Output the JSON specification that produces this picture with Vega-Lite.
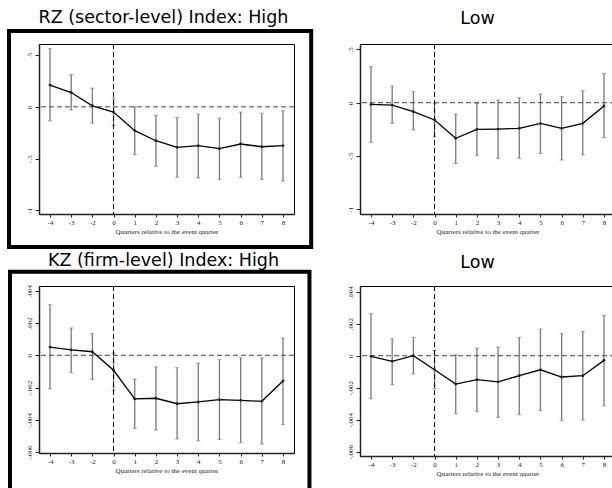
{
  "$schema": "https://vega.github.io/schema/vega-lite/v6.json",
  "background": "white",
  "padding": {"left": 6, "top": 8, "right": 0, "bottom": 0},
  "datasets": {
    "est": [
      {"panel": "RZ_High", "q": -4, "b": 0.21, "lo": -0.135, "hi": 0.56},
      {"panel": "RZ_High", "q": -3, "b": 0.138, "lo": -0.03, "hi": 0.31},
      {"panel": "RZ_High", "q": -2, "b": 0.01, "lo": -0.157, "hi": 0.18},
      {"panel": "RZ_High", "q": 0, "b": -0.051, "lo": -0.18, "hi": 0.084},
      {"panel": "RZ_High", "q": 1, "b": -0.23, "lo": -0.46, "hi": 0.0},
      {"panel": "RZ_High", "q": 2, "b": -0.327, "lo": -0.574, "hi": -0.083},
      {"panel": "RZ_High", "q": 3, "b": -0.391, "lo": -0.68, "hi": -0.103},
      {"panel": "RZ_High", "q": 4, "b": -0.375, "lo": -0.686, "hi": -0.07},
      {"panel": "RZ_High", "q": 5, "b": -0.404, "lo": -0.7, "hi": -0.109},
      {"panel": "RZ_High", "q": 6, "b": -0.359, "lo": -0.68, "hi": -0.051},
      {"panel": "RZ_High", "q": 7, "b": -0.385, "lo": -0.7, "hi": -0.061},
      {"panel": "RZ_High", "q": 8, "b": -0.375, "lo": -0.718, "hi": -0.038},
      {"panel": "RZ_Low", "q": -4, "b": -0.016, "lo": -0.371, "hi": 0.338},
      {"panel": "RZ_Low", "q": -3, "b": -0.022, "lo": -0.193, "hi": 0.157},
      {"panel": "RZ_Low", "q": -2, "b": -0.084, "lo": -0.256, "hi": 0.103},
      {"panel": "RZ_Low", "q": 0, "b": -0.162, "lo": -0.319, "hi": -0.005},
      {"panel": "RZ_Low", "q": 1, "b": -0.334, "lo": -0.569, "hi": -0.106},
      {"panel": "RZ_Low", "q": 2, "b": -0.25, "lo": -0.497, "hi": -0.006},
      {"panel": "RZ_Low", "q": 3, "b": -0.247, "lo": -0.522, "hi": 0.025},
      {"panel": "RZ_Low", "q": 4, "b": -0.24, "lo": -0.522, "hi": 0.047},
      {"panel": "RZ_Low", "q": 5, "b": -0.193, "lo": -0.475, "hi": 0.082},
      {"panel": "RZ_Low", "q": 6, "b": -0.24, "lo": -0.537, "hi": 0.056},
      {"panel": "RZ_Low", "q": 7, "b": -0.193, "lo": -0.49, "hi": 0.113},
      {"panel": "RZ_Low", "q": 8, "b": -0.031, "lo": -0.328, "hi": 0.276},
      {"panel": "KZ_High", "q": -4, "b": 0.00051, "lo": -0.00207, "hi": 0.00313},
      {"panel": "KZ_High", "q": -3, "b": 0.00033, "lo": -0.00108, "hi": 0.00169},
      {"panel": "KZ_High", "q": -2, "b": 0.00022, "lo": -0.00149, "hi": 0.00134},
      {"panel": "KZ_High", "q": 0, "b": -0.00093, "lo": -0.00217, "hi": 0.00014},
      {"panel": "KZ_High", "q": 1, "b": -0.0027, "lo": -0.00452, "hi": -0.00147},
      {"panel": "KZ_High", "q": 2, "b": -0.00266, "lo": -0.00462, "hi": -0.00072},
      {"panel": "KZ_High", "q": 3, "b": -0.003, "lo": -0.00518, "hi": -0.00077},
      {"panel": "KZ_High", "q": 4, "b": -0.00289, "lo": -0.0053, "hi": -0.00048},
      {"panel": "KZ_High", "q": 5, "b": -0.00275, "lo": -0.00522, "hi": -0.00027},
      {"panel": "KZ_High", "q": 6, "b": -0.00279, "lo": -0.00541, "hi": -0.00015},
      {"panel": "KZ_High", "q": 7, "b": -0.00285, "lo": -0.00549, "hi": -0.00015},
      {"panel": "KZ_High", "q": 8, "b": -0.00159, "lo": -0.00429, "hi": 0.00107},
      {"panel": "KZ_Low", "q": -4, "b": -0.00004, "lo": -0.00269, "hi": 0.00263},
      {"panel": "KZ_Low", "q": -3, "b": -0.00035, "lo": -0.00181, "hi": 0.00106},
      {"panel": "KZ_Low", "q": -2, "b": 0.0, "lo": -0.00114, "hi": 0.00115},
      {"panel": "KZ_Low", "q": 0, "b": -0.00088, "lo": -0.00206, "hi": 0.00033},
      {"panel": "KZ_Low", "q": 1, "b": -0.00177, "lo": -0.00363, "hi": 0.00006},
      {"panel": "KZ_Low", "q": 2, "b": -0.0015, "lo": -0.0035, "hi": 0.00048},
      {"panel": "KZ_Low", "q": 3, "b": -0.00163, "lo": -0.00385, "hi": 0.00054},
      {"panel": "KZ_Low", "q": 4, "b": -0.00125, "lo": -0.00369, "hi": 0.00115},
      {"panel": "KZ_Low", "q": 5, "b": -0.00088, "lo": -0.00342, "hi": 0.00167},
      {"panel": "KZ_Low", "q": 6, "b": -0.00133, "lo": -0.00406, "hi": 0.00138},
      {"panel": "KZ_Low", "q": 7, "b": -0.00125, "lo": -0.00402, "hi": 0.00152},
      {"panel": "KZ_Low", "q": 8, "b": -0.00029, "lo": -0.00313, "hi": 0.00252}
    ]
  },
  "data": {"name": "est"},
  "columns": 2,
  "spacing": {"row": 72, "column": 66},
  "bounds": "flush",
  "concat": [
    {
      "title": {"text": "RZ (sector-level) Index: High", "offset": 3, "dx": -3},
      "width": 255,
      "height": 170,
      "layer": [
        {
          "data": {"values": [{}]},
          "mark": {"type": "rect", "fill": null, "fillOpacity": 0, "stroke": "#000", "strokeWidth": 4},
          "encoding": {
            "x": {"datum": -5.936, "type": "quantitative", "title": "Quarters relative to the event quarter"},
            "x2": {"datum": 9.33},
            "y": {"datum": 0.731, "type": "quantitative", "title": null},
            "y2": {"datum": -1.352}
          }
        },
        {
          "transform": [{"filter": "datum.panel === 'RZ_High'"}],
          "mark": {"type": "rule", "color": "#7a7a7a", "strokeWidth": 1.3},
          "encoding": {
            "x": {"field": "q", "type": "quantitative", "title": "Quarters relative to the event quarter",
              "scale": {"domain": [-4.52, -2, 0, 8.52], "range": [0, 53.37, 74.55, 255], "nice": false, "zero": false},
              "axis": {"values": [-4, -3, -2, 0, 1, 2, 3, 4, 5, 6, 7, 8], "tickCount": 30, "labelOverlap": false, "labelExpr": "(datum.value < 0 ? '-' : '') + abs(datum.value)"}},
            "y": {"field": "lo", "type": "quantitative", "title": null,
              "scale": {"domain": [-1.034, 0.606], "nice": false, "zero": false},
              "axis": {"values": [-1, -0.5, 0, 0.5], "tickCount": 30, "labelOverlap": false, "labelExpr": "(datum.value < 0 ? '-' : '') + replace(format(abs(datum.value), '~g'), '0.', '.')"}},
            "y2": {"field": "hi"}
          }
        },
        {
          "transform": [{"filter": "datum.panel === 'RZ_High'"}],
          "mark": {"type": "tick", "orient": "horizontal", "size": 4, "thickness": 1, "color": "#7a7a7a"},
          "encoding": {
            "x": {"field": "q", "type": "quantitative", "title": "Quarters relative to the event quarter"},
            "y": {"field": "lo", "type": "quantitative", "title": null}
          }
        },
        {
          "transform": [{"filter": "datum.panel === 'RZ_High'"}],
          "mark": {"type": "tick", "orient": "horizontal", "size": 4, "thickness": 1, "color": "#7a7a7a"},
          "encoding": {
            "x": {"field": "q", "type": "quantitative", "title": "Quarters relative to the event quarter"},
            "y": {"field": "hi", "type": "quantitative", "title": null}
          }
        },
        {
          "data": {"values": [{}]},
          "mark": {"type": "rule", "color": "#444", "strokeDash": [5, 3], "strokeWidth": 1},
          "encoding": {"y": {"datum": 0, "type": "quantitative", "title": null}}
        },
        {
          "data": {"values": [{}]},
          "mark": {"type": "rule", "color": "#000", "strokeDash": [5, 3], "strokeWidth": 1},
          "encoding": {"x": {"datum": 0, "type": "quantitative", "title": "Quarters relative to the event quarter"}}
        },
        {
          "transform": [{"filter": "datum.panel === 'RZ_High'"}],
          "mark": {"type": "line", "color": "#000", "strokeWidth": 1.3},
          "encoding": {
            "x": {"field": "q", "type": "quantitative", "title": "Quarters relative to the event quarter"},
            "y": {"field": "b", "type": "quantitative", "title": null}
          }
        },
        {
          "transform": [{"filter": "datum.panel === 'RZ_High'"}],
          "mark": {"type": "point", "filled": true, "size": 8, "color": "#222", "opacity": 1},
          "encoding": {
            "x": {"field": "q", "type": "quantitative", "title": "Quarters relative to the event quarter"},
            "y": {"field": "b", "type": "quantitative", "title": null}
          }
        }
      ]
    },
    {
      "title": {"text": "Low", "offset": 16, "dx": -10},
      "width": 255,
      "height": 170,
      "layer": [
        {
          "transform": [{"filter": "datum.panel === 'RZ_Low'"}],
          "mark": {"type": "rule", "color": "#7a7a7a", "strokeWidth": 1.3},
          "encoding": {
            "x": {"field": "q", "type": "quantitative", "title": "Quarters relative to the event quarter",
              "scale": {"domain": [-4.52, -2, 0, 8.52], "range": [0, 53.37, 74.55, 255], "nice": false, "zero": false},
              "axis": {"values": [-4, -3, -2, 0, 1, 2, 3, 4, 5, 6, 7, 8], "tickCount": 30, "labelOverlap": false, "labelExpr": "(datum.value < 0 ? '-' : '') + abs(datum.value)"}},
            "y": {"field": "lo", "type": "quantitative", "title": null,
              "scale": {"domain": [-1.044, 0.551], "nice": false, "zero": false},
              "axis": {"values": [-1, -0.5, 0, 0.5], "tickCount": 30, "labelOverlap": false, "labelExpr": "(datum.value < 0 ? '-' : '') + replace(format(abs(datum.value), '~g'), '0.', '.')"}},
            "y2": {"field": "hi"}
          }
        },
        {
          "transform": [{"filter": "datum.panel === 'RZ_Low'"}],
          "mark": {"type": "tick", "orient": "horizontal", "size": 4, "thickness": 1, "color": "#7a7a7a"},
          "encoding": {
            "x": {"field": "q", "type": "quantitative", "title": "Quarters relative to the event quarter"},
            "y": {"field": "lo", "type": "quantitative", "title": null}
          }
        },
        {
          "transform": [{"filter": "datum.panel === 'RZ_Low'"}],
          "mark": {"type": "tick", "orient": "horizontal", "size": 4, "thickness": 1, "color": "#7a7a7a"},
          "encoding": {
            "x": {"field": "q", "type": "quantitative", "title": "Quarters relative to the event quarter"},
            "y": {"field": "hi", "type": "quantitative", "title": null}
          }
        },
        {
          "data": {"values": [{}]},
          "mark": {"type": "rule", "color": "#444", "strokeDash": [5, 3], "strokeWidth": 1},
          "encoding": {"y": {"datum": 0, "type": "quantitative", "title": null}}
        },
        {
          "data": {"values": [{}]},
          "mark": {"type": "rule", "color": "#000", "strokeDash": [5, 3], "strokeWidth": 1},
          "encoding": {"x": {"datum": 0, "type": "quantitative", "title": "Quarters relative to the event quarter"}}
        },
        {
          "transform": [{"filter": "datum.panel === 'RZ_Low'"}],
          "mark": {"type": "line", "color": "#000", "strokeWidth": 1.3},
          "encoding": {
            "x": {"field": "q", "type": "quantitative", "title": "Quarters relative to the event quarter"},
            "y": {"field": "b", "type": "quantitative", "title": null}
          }
        },
        {
          "transform": [{"filter": "datum.panel === 'RZ_Low'"}],
          "mark": {"type": "point", "filled": true, "size": 8, "color": "#222", "opacity": 1},
          "encoding": {
            "x": {"field": "q", "type": "quantitative", "title": "Quarters relative to the event quarter"},
            "y": {"field": "b", "type": "quantitative", "title": null}
          }
        }
      ]
    },
    {
      "title": {"text": "KZ (firm-level) Index: High", "offset": 0, "dx": -3},
      "width": 255,
      "height": 167,
      "layer": [
        {
          "data": {"values": [{}]},
          "mark": {"type": "rect", "fill": null, "fillOpacity": 0, "stroke": "#000", "strokeWidth": 4},
          "encoding": {
            "x": {"datum": -5.889, "type": "quantitative", "title": "Quarters relative to the event quarter"},
            "x2": {"datum": 9.25},
            "y": {"datum": 0.00518, "type": "quantitative", "title": null},
            "y2": {"datum": -0.0085}
          }
        },
        {
          "transform": [{"filter": "datum.panel === 'KZ_High'"}],
          "mark": {"type": "rule", "color": "#7a7a7a", "strokeWidth": 1.3},
          "encoding": {
            "x": {"field": "q", "type": "quantitative", "title": "Quarters relative to the event quarter",
              "scale": {"domain": [-4.52, -2, 0, 8.52], "range": [0, 53.37, 74.55, 255], "nice": false, "zero": false},
              "axis": {"values": [-4, -3, -2, 0, 1, 2, 3, 4, 5, 6, 7, 8], "tickCount": 30, "labelOverlap": false, "labelExpr": "(datum.value < 0 ? '-' : '') + abs(datum.value)"}},
            "y": {"field": "lo", "type": "quantitative", "title": null,
              "scale": {"domain": [-0.00605, 0.00429], "nice": false, "zero": false},
              "axis": {"values": [-0.006, -0.004, -0.002, 0, 0.002, 0.004], "tickCount": 30, "labelOverlap": false, "labelExpr": "(datum.value < 0 ? '-' : '') + replace(format(abs(datum.value), '~g'), '0.', '.')"}},
            "y2": {"field": "hi"}
          }
        },
        {
          "transform": [{"filter": "datum.panel === 'KZ_High'"}],
          "mark": {"type": "tick", "orient": "horizontal", "size": 4, "thickness": 1, "color": "#7a7a7a"},
          "encoding": {
            "x": {"field": "q", "type": "quantitative", "title": "Quarters relative to the event quarter"},
            "y": {"field": "lo", "type": "quantitative", "title": null}
          }
        },
        {
          "transform": [{"filter": "datum.panel === 'KZ_High'"}],
          "mark": {"type": "tick", "orient": "horizontal", "size": 4, "thickness": 1, "color": "#7a7a7a"},
          "encoding": {
            "x": {"field": "q", "type": "quantitative", "title": "Quarters relative to the event quarter"},
            "y": {"field": "hi", "type": "quantitative", "title": null}
          }
        },
        {
          "data": {"values": [{}]},
          "mark": {"type": "rule", "color": "#444", "strokeDash": [5, 3], "strokeWidth": 1},
          "encoding": {"y": {"datum": 0, "type": "quantitative", "title": null}}
        },
        {
          "data": {"values": [{}]},
          "mark": {"type": "rule", "color": "#000", "strokeDash": [5, 3], "strokeWidth": 1},
          "encoding": {"x": {"datum": 0, "type": "quantitative", "title": "Quarters relative to the event quarter"}}
        },
        {
          "transform": [{"filter": "datum.panel === 'KZ_High'"}],
          "mark": {"type": "line", "color": "#000", "strokeWidth": 1.3},
          "encoding": {
            "x": {"field": "q", "type": "quantitative", "title": "Quarters relative to the event quarter"},
            "y": {"field": "b", "type": "quantitative", "title": null}
          }
        },
        {
          "transform": [{"filter": "datum.panel === 'KZ_High'"}],
          "mark": {"type": "point", "filled": true, "size": 8, "color": "#222", "opacity": 1},
          "encoding": {
            "x": {"field": "q", "type": "quantitative", "title": "Quarters relative to the event quarter"},
            "y": {"field": "b", "type": "quantitative", "title": null}
          }
        }
      ]
    },
    {
      "title": {"text": "Low", "offset": 14, "dx": -10},
      "width": 255,
      "height": 170,
      "layer": [
        {
          "transform": [{"filter": "datum.panel === 'KZ_Low'"}],
          "mark": {"type": "rule", "color": "#7a7a7a", "strokeWidth": 1.3},
          "encoding": {
            "x": {"field": "q", "type": "quantitative", "title": "Quarters relative to the event quarter",
              "scale": {"domain": [-4.52, -2, 0, 8.52], "range": [0, 53.37, 74.55, 255], "nice": false, "zero": false},
              "axis": {"values": [-4, -3, -2, 0, 1, 2, 3, 4, 5, 6, 7, 8], "tickCount": 30, "labelOverlap": false, "labelExpr": "(datum.value < 0 ? '-' : '') + abs(datum.value)"}},
            "y": {"field": "lo", "type": "quantitative", "title": null,
              "scale": {"domain": [-0.00627, 0.00436], "nice": false, "zero": false},
              "axis": {"values": [-0.006, -0.004, -0.002, 0, 0.002, 0.004], "tickCount": 30, "labelOverlap": false, "labelExpr": "(datum.value < 0 ? '-' : '') + replace(format(abs(datum.value), '~g'), '0.', '.')"}},
            "y2": {"field": "hi"}
          }
        },
        {
          "transform": [{"filter": "datum.panel === 'KZ_Low'"}],
          "mark": {"type": "tick", "orient": "horizontal", "size": 4, "thickness": 1, "color": "#7a7a7a"},
          "encoding": {
            "x": {"field": "q", "type": "quantitative", "title": "Quarters relative to the event quarter"},
            "y": {"field": "lo", "type": "quantitative", "title": null}
          }
        },
        {
          "transform": [{"filter": "datum.panel === 'KZ_Low'"}],
          "mark": {"type": "tick", "orient": "horizontal", "size": 4, "thickness": 1, "color": "#7a7a7a"},
          "encoding": {
            "x": {"field": "q", "type": "quantitative", "title": "Quarters relative to the event quarter"},
            "y": {"field": "hi", "type": "quantitative", "title": null}
          }
        },
        {
          "data": {"values": [{}]},
          "mark": {"type": "rule", "color": "#444", "strokeDash": [5, 3], "strokeWidth": 1},
          "encoding": {"y": {"datum": 0, "type": "quantitative", "title": null}}
        },
        {
          "data": {"values": [{}]},
          "mark": {"type": "rule", "color": "#000", "strokeDash": [5, 3], "strokeWidth": 1},
          "encoding": {"x": {"datum": 0, "type": "quantitative", "title": "Quarters relative to the event quarter"}}
        },
        {
          "transform": [{"filter": "datum.panel === 'KZ_Low'"}],
          "mark": {"type": "line", "color": "#000", "strokeWidth": 1.3},
          "encoding": {
            "x": {"field": "q", "type": "quantitative", "title": "Quarters relative to the event quarter"},
            "y": {"field": "b", "type": "quantitative", "title": null}
          }
        },
        {
          "transform": [{"filter": "datum.panel === 'KZ_Low'"}],
          "mark": {"type": "point", "filled": true, "size": 8, "color": "#222", "opacity": 1},
          "encoding": {
            "x": {"field": "q", "type": "quantitative", "title": "Quarters relative to the event quarter"},
            "y": {"field": "b", "type": "quantitative", "title": null}
          }
        }
      ]
    }
  ],
  "config": {
    "view": {"stroke": "#000", "strokeWidth": 1},
    "axis": {
      "grid": false,
      "domainColor": "#222",
      "domainWidth": 1.5,
      "tickColor": "#222",
      "tickSize": 3,
      "labelFont": "Liberation Serif",
      "labelFontSize": 7,
      "labelColor": "#222",
      "labelOverlap": false,
      "labelFlush": false,
      "titleFont": "Liberation Serif",
      "titleFontSize": 7,
      "titleFontWeight": "normal",
      "titleColor": "#222"
    },
    "axisX": {"labelPadding": 1, "titlePadding": 2, "labelAngle": 0},
    "axisY": {"labelAngle": -90, "labelAlign": "center", "labelBaseline": "bottom", "labelPadding": 3, "tickSize": 4},
    "title": {"font": "DejaVu Sans", "fontSize": 17.5, "fontWeight": "normal", "color": "#000", "anchor": "middle", "baseline": "alphabetic"}
  }
}
